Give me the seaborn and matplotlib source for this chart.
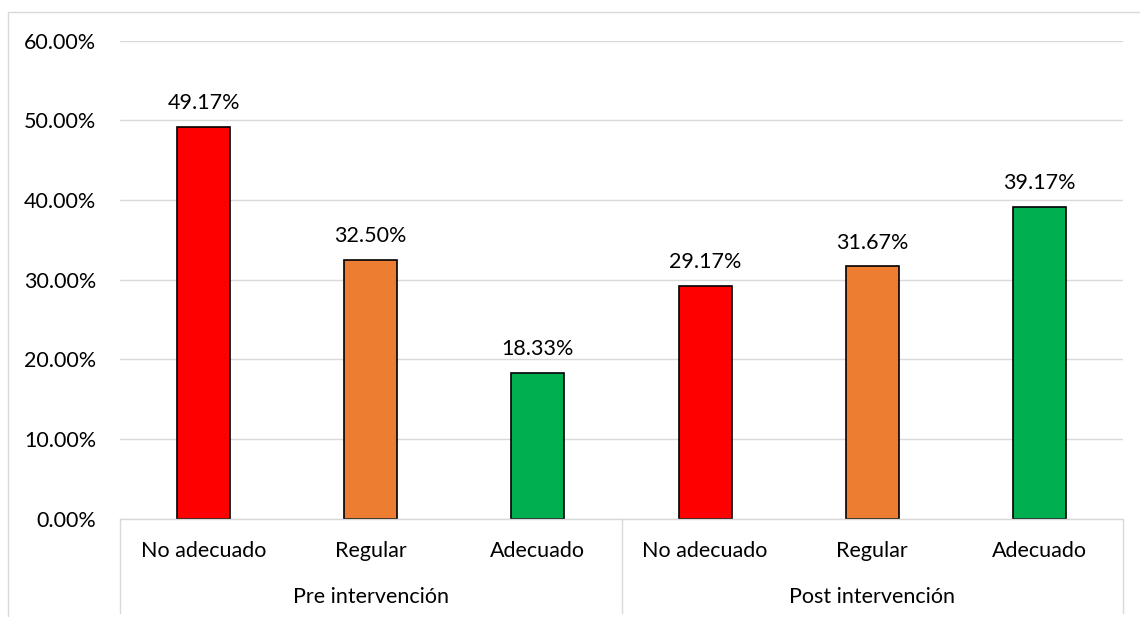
import matplotlib
matplotlib.use("Agg")
import matplotlib.pyplot as plt
import seaborn as sns
import pandas as pd
from matplotlib.patches import Rectangle

# ---- data ----
groups = ["Pre intervención", "Pre intervención", "Pre intervención",
          "Post intervención", "Post intervención", "Post intervención"]
levels = ["No adecuado", "Regular", "Adecuado",
          "No adecuado", "Regular", "Adecuado"]
values = [49.17, 32.50, 18.33, 29.17, 31.67, 39.17]
group_names = ["Pre intervención", "Post intervención"]
level_colors = {"No adecuado": "#FF0000", "Regular": "#ED7D31", "Adecuado": "#00B050"}
yticks = [0, 10, 20, 30, 40, 50, 60]

df = pd.DataFrame({"grupo": groups, "nivel": levels, "valor": values})
df["key"] = [f"{g}|{l}" for g, l in zip(groups, levels)]
palette = {k: level_colors[l] for k, l in zip(df["key"], df["nivel"])}

sns.set_theme(style="white")
plt.rcParams["font.family"] = ["Lato", "DejaVu Sans"]
plt.rcParams["text.color"] = "#000000"

W, H = 1140, 617
fig = plt.figure(figsize=(W / 100, H / 100), dpi=100)
left, right, top, bottom = 120, 1123, 40.7, 518.7
ax = fig.add_axes([left / W, 1 - bottom / H, (right - left) / W, (bottom - top) / H])

sns.barplot(data=df, x="key", y="valor", hue="key", palette=palette,
            width=0.317, edgecolor="black", linewidth=1.2, legend=False,
            saturation=1, ax=ax, order=list(df["key"]))

fs = 15.5
for cont in ax.containers:
    ax.bar_label(cont, fmt="{:.2f}%", padding=10, fontsize=fs, color="#000000")

ax.set_ylim(0, 60)
ax.set_xlim(-0.5, len(values) - 0.5)
ax.set_yticks(yticks)
ax.set_yticklabels([f"{v:.2f}%" for v in yticks], fontsize=fs, color="#000000")
ax.set_xticks(range(len(levels)))
ax.set_xticklabels(levels, fontsize=fs, color="#000000")
plt.setp(ax.get_xticklabels(), va="center")
ax.tick_params(axis="y", length=0, pad=17)
ax.tick_params(axis="x", length=0, pad=23)
ax.set_xlabel("")
ax.set_ylabel("")

ax.yaxis.grid(True, color="#D9D9D9", linewidth=1.0)
ax.set_axisbelow(True)
for s in ["left", "right", "top"]:
    ax.spines[s].set_visible(False)
ax.spines["bottom"].set_color("#D9D9D9")
ax.spines["bottom"].set_linewidth(1.0)
ax.spines["bottom"].set_zorder(5)

# group separators and labels
trans = ax.get_xaxis_transform()
sep_bottom = -(613 - bottom) / (bottom - top)
for xs in [-0.5, 2.5, 5.5]:
    ax.plot([xs, xs], [0, sep_bottom], transform=trans, color="#D9D9D9",
            linewidth=1.0, clip_on=False)
glabel_y = -(596.7 - bottom) / (bottom - top)
for i, g in enumerate(group_names):
    ax.text(1 + 3 * i, glabel_y, g, transform=trans, ha="center", va="center",
            fontsize=fs, color="#000000")

# chart border
fig.patches.append(Rectangle((8 / W, -0.05), 1.1, 1 - 12 / H + 0.05,
                             transform=fig.transFigure, fill=False,
                             edgecolor="#D9D9D9", linewidth=1.0))

fig.savefig("out.png", dpi=100)
